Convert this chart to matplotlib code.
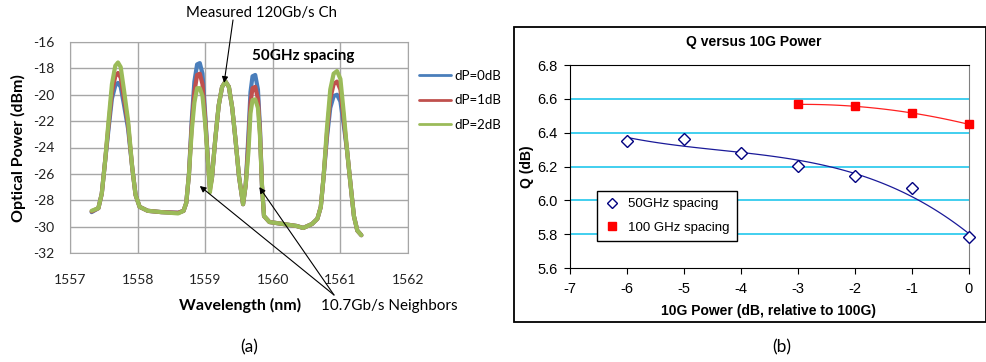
import numpy as np
import matplotlib.pyplot as plt
from matplotlib.patches import Rectangle
from matplotlib.lines import Line2D

plt.rcParams["axes.unicode_minus"] = False

# --- (a) spectrum data ---
wl = [1557.32, 1557.42, 1557.47, 1557.52, 1557.57, 1557.62, 1557.67, 1557.71, 1557.75, 1557.80,
      1557.86, 1557.92, 1557.97, 1558.03, 1558.15, 1558.35, 1558.60, 1558.68, 1558.72, 1558.76,
      1558.80, 1558.84, 1558.88, 1558.92, 1558.96, 1559.00, 1559.04, 1559.07, 1559.10, 1559.15,
      1559.20, 1559.25, 1559.30, 1559.35, 1559.40, 1559.45, 1559.50, 1559.56, 1559.60, 1559.64,
      1559.67, 1559.70, 1559.74, 1559.78, 1559.81, 1559.84, 1559.87, 1559.95, 1560.15, 1560.35,
      1560.45, 1560.58, 1560.66, 1560.71, 1560.75, 1560.80, 1560.85, 1560.90, 1560.95, 1561.00,
      1561.05, 1561.10, 1561.15, 1561.20, 1561.25, 1561.31]
p_0db = [-28.9, -28.6, -27.5, -25.0, -22.6, -20.3, -19.3, -19.1, -19.4, -20.8,
         -22.6, -25.5, -27.6, -28.5, -28.8, -28.9, -28.95, -28.8, -28.2, -26.0,
         -22.0, -19.0, -17.7, -17.6, -18.4, -21.5, -25.0, -27.0, -26.3, -23.3,
         -20.8, -19.4, -19.0, -19.4, -21.0, -23.5, -26.2, -28.3, -26.8, -23.0,
         -19.8, -18.6, -18.5, -19.6, -22.5, -26.9, -29.2, -29.65, -29.8, -29.95,
         -30.1, -29.8, -29.4, -28.5, -26.3, -23.3, -21.0, -20.1, -20.0, -20.5,
         -22.3, -24.3, -26.8, -29.2, -30.3, -30.65]
p_1db = [-28.85, -28.6, -27.5, -25.0, -22.3, -19.8, -18.6, -18.35, -18.7, -20.3,
         -22.3, -25.5, -27.6, -28.5, -28.8, -28.9, -28.95, -28.8, -28.2, -26.0,
         -22.4, -19.8, -18.5, -18.4, -19.2, -21.8, -25.0, -27.2, -26.3, -23.3,
         -20.8, -19.4, -19.0, -19.4, -21.0, -23.5, -26.2, -28.3, -26.8, -23.6,
         -20.6, -19.5, -19.4, -20.3, -22.8, -26.9, -29.2, -29.65, -29.8, -29.95,
         -30.1, -29.8, -29.4, -28.5, -26.3, -23.0, -20.3, -19.2, -19.0, -19.6,
         -21.9, -24.3, -26.8, -29.2, -30.3, -30.65]
p_2db = [-28.8, -28.6, -27.5, -25.0, -22.0, -19.2, -17.8, -17.55, -17.9, -19.7,
         -22.0, -25.5, -27.6, -28.5, -28.8, -28.9, -29.0, -28.8, -28.2, -26.0,
         -22.8, -20.6, -19.5, -19.5, -20.1, -22.2, -25.0, -27.4, -26.3, -23.3,
         -20.8, -19.4, -19.0, -19.4, -21.0, -23.5, -26.2, -28.3, -26.8, -24.3,
         -21.4, -20.4, -20.35, -21.0, -23.1, -26.9, -29.2, -29.65, -29.8, -29.95,
         -30.1, -29.8, -29.4, -28.5, -26.3, -22.6, -19.6, -18.4, -18.2, -18.8,
         -21.4, -24.3, -26.8, -29.2, -30.3, -30.65]
spec_labels = ["dP=0dB", "dP=1dB", "dP=2dB"]

# --- (b) Q versus 10G power ---
pwr_50 = [-6, -5, -4, -3, -2, -1, 0]
q_50 = [6.353, 6.363, 6.280, 6.201, 6.142, 6.075, 5.781]
pwr_100 = [-3, -2, -1, 0]
q_100 = [6.567, 6.556, 6.516, 6.449]

W, H = 987, 362
fig = plt.figure(figsize=(W / 100, H / 100), dpi=100)


def fx(px):
    return px / W


def fy(py):
    return 1 - py / H


# ================= (a) =================
calibri = "Lato"
ax1 = fig.add_axes([fx(70), fy(253), fx(338), 211 / H])
for y, c, lab in [(p_0db, "#4A7EBB", spec_labels[0]),
                  (p_1db, "#C0504D", spec_labels[1]),
                  (p_2db, "#9BBB59", spec_labels[2])]:
    ax1.plot(wl, y, color=c, lw=3.0, label=lab, solid_joinstyle="round", solid_capstyle="round")

ax1.set_xlim(1557, 1562)
ax1.set_ylim(-32, -16)
ax1.set_xticks(np.arange(1557, 1563, 1))
ax1.set_yticks(np.arange(-32, -15, 2))
ax1.grid(True, color="#A6A6A6", lw=1)
ax1.set_axisbelow(True)
for s in ax1.spines.values():
    s.set_color("#A6A6A6")
ax1.tick_params(length=0, labelsize=10, colors="#222222")
ax1.tick_params(axis="x", pad=15)
ax1.tick_params(axis="y", pad=11)
for t in ax1.get_xticklabels() + ax1.get_yticklabels():
    t.set_family(calibri)

leg1 = ax1.legend(loc="upper left", bbox_to_anchor=(fx(415), fy(66)), bbox_transform=fig.transFigure,
                  frameon=False, handlelength=2.4, handletextpad=0.3, labelspacing=0.95,
                  borderaxespad=0, borderpad=0.3, prop={"family": calibri, "size": 9.5})
for ln in leg1.get_lines():
    ln.set_linewidth(2.0)

fig.text(fx(18), fy(148), "Optical Power (dBm)", rotation=90, ha="center", va="center",
         family=calibri, fontweight="bold", fontsize=11.5)
fig.text(fx(240), fy(305), "Wavelength (nm)", ha="center", va="center",
         family=calibri, fontweight="bold", fontsize=11.5)
fig.text(fx(303), fy(56), "50GHz spacing", ha="center", va="center",
         family=calibri, fontweight="bold", fontsize=11)
fig.text(fx(261), fy(13), "Measured 120Gb/s Ch", ha="center", va="center",
         family=calibri, fontsize=10.8)
fig.text(fx(389), fy(306), "10.7Gb/s Neighbors", ha="center", va="center",
         family=calibri, fontsize=11)
fig.text(fx(249), fy(347), "(a)", ha="center", va="center", family=calibri, fontsize=12.5)

arrow = dict(arrowstyle="-|>", color="black", lw=0.8, mutation_scale=9, shrinkA=0, shrinkB=0)
ax1.annotate("", xy=(1559.28, -19.1), xytext=(233, H - 20), textcoords="figure pixels",
             arrowprops=arrow, annotation_clip=False)
ax1.annotate("", xy=(1558.92, -26.92), xytext=(334, H - 295), textcoords="figure pixels",
             arrowprops=arrow, annotation_clip=False)
ax1.annotate("", xy=(1559.80, -27.0), xytext=(334, H - 295), textcoords="figure pixels",
             arrowprops=arrow, annotation_clip=False)

# ================= (b) =================
arial = "Liberation Sans"
fig.patches.append(Rectangle((fx(514), fy(322)), fx(986 - 514), (322 - 27) / H,
                             transform=fig.transFigure, fill=False, ec="black", lw=1.3))

ax2 = fig.add_axes([fx(570), fy(268), fx(399), 203 / H])
ax2.set_xlim(-7, 0)
ax2.set_ylim(5.6, 6.8)
ax2.set_xticks(np.arange(-7, 1, 1))
ax2.set_yticks(np.arange(5.6, 6.81, 0.2))
ax2.yaxis.set_major_formatter(plt.FormatStrFormatter("%.1f"))
for gy in np.arange(5.8, 6.7, 0.2):
    ax2.axhline(gy, color="#33CCEE", lw=1.3, zorder=0)
ax2.spines["right"].set_color("#808080")
ax2.tick_params(direction="out", length=4, labelsize=10.5, colors="black")
ax2.tick_params(axis="x", pad=6)
ax2.tick_params(axis="y", pad=5)
for t in ax2.get_xticklabels() + ax2.get_yticklabels():
    t.set_family(arial)

# trend lines (polynomial fits of the plotted points)
xs50 = np.linspace(-6, 0, 100)
ax2.plot(xs50, np.polyval(np.polyfit(pwr_50, q_50, 3), xs50), color="#1A1A99", lw=0.9, zorder=2)
xs100 = np.linspace(-3, 0, 100)
ax2.plot(xs100, np.polyval(np.polyfit(pwr_100, q_100, 2), xs100), color="#FF2020", lw=0.9, zorder=2)

ax2.plot(pwr_50, q_50, ls="none", marker="D", ms=6.5, mfc="white", mec="#000080", mew=1.0,
         zorder=3, clip_on=False)
ax2.plot(pwr_100, q_100, ls="none", marker="s", ms=6, mfc="#FF0000", mec="#FF0000",
         zorder=3, clip_on=False)

handles = [Line2D([], [], ls="none", marker="D", ms=5, mfc="white", mec="#000080", mew=1.0),
           Line2D([], [], ls="none", marker="s", ms=5.5, mfc="#FF0000", mec="#FF0000")]
leg2 = ax2.legend(handles, ["50GHz spacing", "100 GHz spacing"], loc="upper left",
                  bbox_to_anchor=(fx(597), fy(191)), bbox_transform=fig.transFigure,
                  fancybox=False, edgecolor="black", framealpha=1, handlelength=1.2,
                  handletextpad=0.6, labelspacing=0.85, borderpad=0.55, borderaxespad=0,
                  prop={"family": arial, "size": 9.5})
leg2.get_frame().set_linewidth(1.0)

fig.text(fx(754), fy(42), "Q versus 10G Power", ha="center", va="center",
         family=arial, fontweight="bold", fontsize=10)
fig.text(fx(527), fy(167), "Q (dB)", rotation=90, ha="center", va="center",
         family=arial, fontweight="bold", fontsize=10)
fig.text(fx(769), fy(311), "10G Power (dB, relative to 100G)", ha="center", va="center",
         family=arial, fontweight="bold", fontsize=10)
fig.text(fx(782), fy(347), "(b)", ha="center", va="center", family=calibri, fontsize=12.5)

fig.savefig("out.png", dpi=100)
